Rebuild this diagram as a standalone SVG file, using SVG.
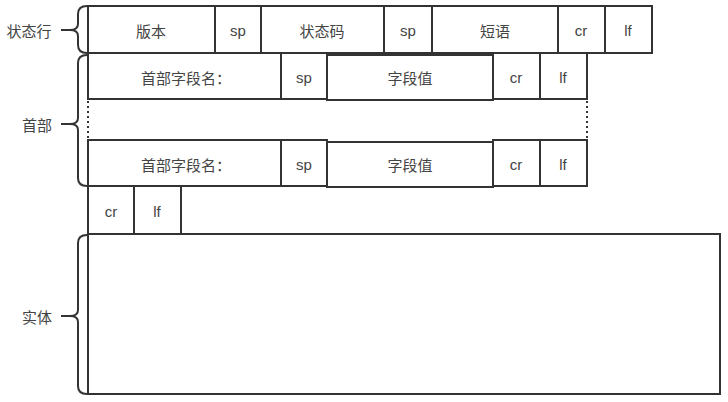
<svg xmlns="http://www.w3.org/2000/svg" width="728" height="402" viewBox="0 0 728 402">
<style>
.c{fill:#fff;stroke:#333;stroke-width:2}
.t{font-family:"Noto Sans CJK SC","Liberation Sans",sans-serif;font-size:15px;fill:#444;text-anchor:middle;dominant-baseline:central}
.l{font-family:"Liberation Sans","Noto Sans CJK SC",sans-serif;font-size:15px;fill:#444;text-anchor:middle;dominant-baseline:central}
.b{fill:none;stroke:#333;stroke-width:2;stroke-linejoin:round}
.d{fill:none;stroke:#333;stroke-width:2;stroke-dasharray:2 3}
</style>
<rect width="728" height="402" fill="#fff"/>
<g id="status-line">
<g id="s-version"><rect class="c" x="88" y="6" width="127" height="47"/><text class="t" x="151" y="30">版本</text></g>
<g id="s-sp1"><rect class="c" x="215" y="6" width="46" height="47"/><text class="l" x="238" y="30">sp</text></g>
<g id="s-code"><rect class="c" x="261" y="6" width="123" height="47"/><text class="t" x="322" y="30">状态码</text></g>
<g id="s-sp2"><rect class="c" x="384" y="6" width="48" height="47"/><text class="l" x="408" y="30">sp</text></g>
<g id="s-phrase"><rect class="c" x="432" y="6" width="126" height="47"/><text class="t" x="495" y="30">短语</text></g>
<g id="s-cr"><rect class="c" x="558" y="6" width="47" height="47"/><text class="l" x="581" y="30">cr</text></g>
<g id="s-lf"><rect class="c" x="605" y="6" width="47" height="47"/><text class="l" x="628" y="30">lf</text></g>
</g>
<g id="header1">
<g id="h1-name"><rect class="c" x="88" y="53" width="193" height="46"/><text class="t" x="186" y="77">首部字段名：</text></g>
<g id="h1-sp"><rect class="c" x="281" y="53" width="46" height="46"/><text class="l" x="304" y="77">sp</text></g>
<g id="h1-value"><rect class="c" x="327" y="55" width="166" height="45"/><text class="t" x="410" y="77">字段值</text></g>
<g id="h1-cr"><rect class="c" x="493" y="53" width="47" height="46"/><text class="l" x="516" y="77">cr</text></g>
<g id="h1-lf"><rect class="c" x="540" y="53" width="47" height="46"/><text class="l" x="563" y="77">lf</text></g>
</g>
<g id="header2">
<g id="h2-name"><rect class="c" x="88" y="140" width="193" height="46"/><text class="t" x="186" y="164">首部字段名：</text></g>
<g id="h2-sp"><rect class="c" x="281" y="140" width="46" height="46"/><text class="l" x="304" y="164">sp</text></g>
<g id="h2-value"><rect class="c" x="327" y="142" width="166" height="45"/><text class="t" x="410" y="164">字段值</text></g>
<g id="h2-cr"><rect class="c" x="493" y="140" width="47" height="46"/><text class="l" x="516" y="164">cr</text></g>
<g id="h2-lf"><rect class="c" x="540" y="140" width="47" height="46"/><text class="l" x="563" y="164">lf</text></g>
</g>
<g id="blank-line">
<g id="e-cr"><rect class="c" x="88" y="186" width="46" height="48"/><text class="l" x="111" y="211">cr</text></g>
<g id="e-lf"><rect class="c" x="134" y="186" width="47" height="48"/><text class="l" x="157" y="211">lf</text></g>
</g>
<g id="body"><rect class="c" x="88" y="234" width="632" height="160"/></g>
<g id="connectors">
<path class="d" d="M88 101 V139"/>
<path class="d" d="M587 101 V139"/>
<path class="b" d="M87 6 Q78 6 78 14 V24 Q78 30 70 30 Q78 30 78 36 V45 Q78 53 87 53 M61 30 H70"/>
<path class="b" d="M87 55 Q78 55 78 63 V118 Q78 124 70 124 Q78 124 78 130 V178 Q78 186 87 186 M61 124 H70"/>
<path class="b" d="M87 235 Q78 235 78 243 V310 Q78 316 70 316 Q78 316 78 322 V386 Q78 394 87 394 M61 316 H70"/>
</g>
<g id="labels">
<text class="t" x="29" y="30">状态行</text>
<text class="t" x="37" y="124">首部</text>
<text class="t" x="37" y="316">实体</text>
</g>
</svg>
